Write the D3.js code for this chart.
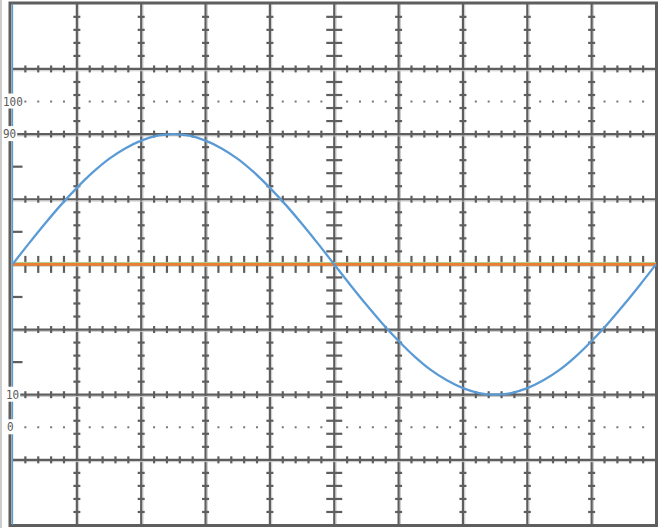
<!DOCTYPE html>
<html><head><meta charset="utf-8">
<script src="https://cdn.jsdelivr.net/npm/d3@7"></script>
<style>html,body{margin:0;padding:0;background:#fff;overflow:hidden}</style>
</head><body><svg id="c" width="661" height="528"></svg>
<script>
// ---- data ----
const phaseDeg = [0,9,18,27,36,45,54,63,72,81,90,99,108,117,126,135,144,153,162,171,180,
  189,198,207,216,225,234,243,252,261,270,279,288,297,306,315,324,333,342,351,360];
const signal = [50,56.3,62.4,68.2,73.5,78.3,82.4,85.6,88.0,89.5,90,89.5,88.0,85.6,82.4,78.3,73.5,68.2,62.4,56.3,50,
  43.7,37.6,31.8,26.5,21.7,17.6,14.4,12.0,10.5,10,10.5,12.0,14.4,17.6,21.7,26.5,31.8,37.6,43.7,50];
const baselineX = [0, 360];
const baseline = [50, 50];
const greenRef = [50.6, 50.6];
const refDotted = [100, 0];
const refLabels = ["100", "90", "10", "0"];
const refLabelValues = [100, 90, 10, 0];
const axisTicks = [20, 40, 60, 80];

// ---- scales ----
const x = d3.scaleLinear().domain([0, 360]).range([12.5, 656]);
const y = d3.scaleLinear().domain([-30, 130]).range([525, 3.8]);
const svg = d3.select("#c");

const xMajor = d3.range(0, 361, 36);
const yMajor = d3.range(-30, 131, 20);
const xMinor = d3.range(0, 360.01, 7.2).filter(v => Math.abs(v / 36 - Math.round(v / 36)) > 1e-6);
const yMinor = d3.range(-30, 130.01, 4).filter(v => Math.abs((v + 30) / 20 - Math.round((v + 30) / 20)) > 1e-6);

const dark = "#5e5e5e", light = "#c8c8c8";
const g = svg.append("g");

// outer light line
g.append("line").attr("x1", 1).attr("x2", 1).attr("y1", 0).attr("y2", 528)
  .attr("stroke", "#bdbdbd").attr("stroke-width", 1.5);

// major grid (double-line look)
xMajor.slice(1, -1).forEach(v => {
  g.append("line").attr("x1", x(v) + 1.8).attr("x2", x(v) + 1.8).attr("y1", y(130)).attr("y2", y(-30))
    .attr("stroke", light).attr("stroke-width", 1);
  g.append("line").attr("x1", x(v)).attr("x2", x(v)).attr("y1", y(130)).attr("y2", y(-30))
    .attr("stroke", dark).attr("stroke-width", 2.2);
});
yMajor.slice(1, -1).forEach(v => {
  g.append("line").attr("y1", y(v) + 1.8).attr("y2", y(v) + 1.8).attr("x1", x(0)).attr("x2", x(360))
    .attr("stroke", light).attr("stroke-width", 1);
  g.append("line").attr("y1", y(v)).attr("y2", y(v)).attr("x1", x(0)).attr("x2", x(360))
    .attr("stroke", dark).attr("stroke-width", 2.2);
});

// minor ticks on grid lines
xMajor.slice(1, -1).forEach(v => {
  const len = v === 180 ? 8 : 3.5;
  yMinor.forEach(m => {
    g.append("line").attr("x1", x(v) - len).attr("x2", x(v) + len).attr("y1", y(m)).attr("y2", y(m))
      .attr("stroke", dark).attr("stroke-width", 2.2);
  });
});
yMajor.slice(1, -1).forEach(v => {
  const len = v === 50 ? 8.5 : 3.5;
  xMinor.forEach(m => {
    g.append("line").attr("y1", y(v) - len).attr("y2", y(v) + len).attr("x1", x(m)).attr("x2", x(m))
      .attr("stroke", dark).attr("stroke-width", 2.2);
  });
});

// dotted reference lines
refDotted.forEach(v => {
  g.selectAll(null).data(xMinor).enter().append("rect")
    .attr("x", d => x(d) - 1).attr("y", y(v) - 1).attr("width", 2).attr("height", 2)
    .attr("fill", "#777");
});

// frame
g.append("rect").attr("x", 10).attr("y", 3).attr("width", 646.5).attr("height", 522.5)
  .attr("fill", "none").attr("stroke", dark).attr("stroke-width", 3);

// y axis (blue) and its ticks
g.append("line").attr("x1", x(0)).attr("x2", x(0)).attr("y1", y(130)).attr("y2", y(-30))
  .attr("stroke", "#5b9bd5").attr("stroke-width", 1.3);
axisTicks.forEach(v => {
  g.append("line").attr("x1", x(0) + 0.5).attr("x2", x(0) + 10).attr("y1", y(v)).attr("y2", y(v))
    .attr("stroke", dark).attr("stroke-width", 2.2);
});

// series
const line = d3.line().x((d, i) => x(d[0])).y(d => y(d[1]));
g.append("path").datum(baselineX.map((d, i) => [d, greenRef[i]])).attr("d", line)
  .attr("fill", "none").attr("stroke", "#a9d18e").attr("stroke-width", 1);
g.append("path").datum(baselineX.map((d, i) => [d, baseline[i]])).attr("d", line)
  .attr("fill", "none").attr("stroke", "#ed7d31").attr("stroke-width", 2.6);
g.append("path").datum(phaseDeg.map((d, i) => [d, signal[i]]))
  .attr("d", line.curve(d3.curveCatmullRom))
  .attr("fill", "none").attr("stroke", "#5b9bd5").attr("stroke-width", 2.3);

// labels
const labelX = {"100": 3, "90": 3, "10": 6, "0": 7};
refLabels.forEach((t, i) => {
  const tx = g.append("text").attr("x", labelX[t]).attr("y", y(refLabelValues[i]) + 0.5)
    .attr("dominant-baseline", "middle")
    .attr("font-family", "DejaVu Sans Mono, monospace").attr("font-size", 12.5)
    .attr("textLength", t.length * 6.6).attr("lengthAdjust", "spacingAndGlyphs")
    .attr("fill", "#5a5a5a").text(t);
  const b = tx.node().getBBox();
  g.insert("rect", () => tx.node()).attr("x", b.x - 1).attr("y", b.y)
    .attr("width", b.width + 2).attr("height", b.height).attr("fill", "#fff");
});
</script></body></html>
